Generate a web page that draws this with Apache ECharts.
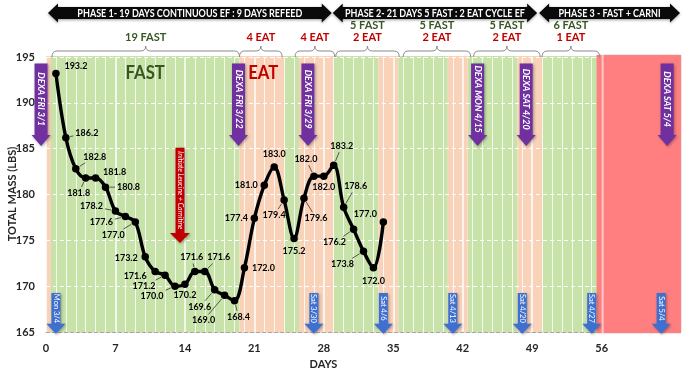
<!DOCTYPE html>
<html><head><meta charset="utf-8">
<script src="https://cdn.jsdelivr.net/npm/echarts/dist/echarts.min.js"></script>
<style>html,body{margin:0;padding:0;background:#fff}#c{width:690px;height:373px}</style>
</head><body><div id="c"></div>
<script>
// ---------- data ----------
const dayNums = [1,2,3,4,5,6,7,8,9,10,11,12,13,14,15,16,17,18,19,20,21,22,23,24,25,26,27,28,29,30,31,32,33,34];
const massLbs = [193.2,186.2,182.8,181.8,181.8,180.8,178.2,177.6,177.0,173.2,171.6,171.2,170.0,170.2,171.6,171.6,169.6,169.0,168.4,172.0,177.4,181.0,183.0,179.4,175.2,179.6,182.0,182.0,183.2,178.6,176.2,173.8,172.0,177.0];
const xTickLabels = [0,7,14,21,28,35,42,49,56];
const yTickLabels = [165,170,175,180,185,190,195];
const fastBands = [[0.5,19.5],[24,25.5],[29,33.5],[35.5,40.5],[42.5,47.5],[50,55.5]];
const eatBands = [[0,0.5],[19.5,24],[25.5,29],[33.5,35.5],[40.5,42.5],[47.5,50]];
const carniBand = [[55.5,64]];
const phaseStart = [0.2,28.9,49.7];
const phaseEnd = [28.8,49.5,63.9];
const phaseText = ['PHASE 1- 19 DAYS CONTINUOUS EF : 9 DAYS REFEED','PHASE 2- 21 DAYS 5 FAST : 2 EAT CYCLE EF','PHASE 3 - FAST + CARNI'];
const braceStart = [0.6,19.5,25.1,29.2,36.0,43.1,50.0];
const braceEnd = [19.5,23.8,29.1,35.6,42.8,49.8,55.8];
const braceFast = ['19 FAST','','','5 FAST','5 FAST','5 FAST','6 FAST'];
const braceEat = ['','4 EAT','4 EAT','2 EAT','2 EAT','2 EAT','1 EAT'];
const bigLabelDay = [10,21.9];
const bigLabelText = ['FAST','EAT'];
const dexaDay = [-0.5,19.4,26.4,43.5,48.4,62.6];
const dexaText = ['DEXA FRI 3/1','DEXA FRI 3/22','DEXA FRI 3/29','DEXA MON 4/15','DEXA SAT 4/20','DEXA SAT 5/4'];
const dateDay = [1,27,34,41,48,55,62];
const dateText = ['Mon 3/4','Sat 3/30','Sat 4/6','Sat 4/13','Sat 4/20','Sat 4/27','Sat 5/4'];
const noteDay = [13.5];
const noteText = ['Initiate Leucine + Carnitine'];

// ---------- styling (not data) ----------
const labelDX = [20,21,19,-7,19,23,-24,-24,-22,-19,-20,-21,-23,0,-3,14,-15,-21,4,19,-18,-18,0,-10,0,12,-8,0,8,12,-19,-21,0,-18];
const labelDY = [-7,-5,-12,15,-6,0,-5,6,13,1,5,11,10,11,-14,-14,17,25,16,0,0,0,-13,15,13,20,-17,11,-19,-21,13,13,13,-8];
const phaseTextWidth = [225,180,102];
const GREEN = '#c8e3aa', PEACH = '#f9d2ba', RED = '#ff7f80';
const DKGREEN = '#375623', DKRED = '#c00000';
const F = 'Lato, "Open Sans", sans-serif';
const LABEL_FONT = 'bold 9px ' + F;

const mctx = document.createElement('canvas').getContext('2d');
function textW(text, font){ mctx.font = font; return mctx.measureText(text).width; }
function fitScale(text, font, target){ const w = textW(text, font); return w > 0 ? target / w : 1; }

function vArrow(x, yTop, yTip, bodyW, headW, headH, color, text, font){
  const yHead = yTip - headH;
  return {type:'group', children:[
    {type:'polygon', shape:{points:[[x-bodyW/2,yTop],[x+bodyW/2,yTop],[x+bodyW/2,yHead],[x+headW/2,yHead],[x,yTip],[x-headW/2,yHead],[x-bodyW/2,yHead]]},
     style:{fill:color, shadowBlur:3, shadowColor:'rgba(0,0,0,0.35)', shadowOffsetX:1, shadowOffsetY:1}},
    {type:'text', x:x, y:(yTop+yHead)/2, rotation:-Math.PI/2,
     style:{text:text, fill:'#fff', font:font, align:'center', verticalAlign:'middle'}}
  ]};
}

const chart = echarts.init(document.getElementById('c'), null, {renderer:'canvas'});
chart.setOption({
  animation:false,
  backgroundColor:'#fff',
  grid:{left:46, right:9, top:57, bottom:41, outerBoundsMode:'none', containLabel:false},
  graphic:[{type:'text', x:12, y:194, rotation:Math.PI/2, silent:true,
    style:{text:'TOTAL MASS (LBS)', fill:'#262626', font:'bold 11px ' + F, align:'center', verticalAlign:'middle'}}],
  xAxis:{type:'value', min:0, max:64, interval:7,
    axisLine:{show:true, lineStyle:{color:'#a6a6a6', type:'dashed', width:1}},
    axisTick:{show:false},
    axisLabel:{formatter:v => xTickLabels.includes(v) ? String(v) : '', color:'#262626', fontFamily:F, fontWeight:'bold', fontSize:11, margin:11},
    splitLine:{show:true, lineStyle:{color:'#ffffff', width:1.5}},
    minorTick:{show:false, splitNumber:7},
    minorSplitLine:{show:true, lineStyle:{color:'rgba(255,255,255,0.8)', width:1}},
    name:'DAYS', nameLocation:'middle', nameGap:25,
    nameTextStyle:{color:'#262626', fontFamily:F, fontWeight:'bold', fontSize:11, padding:[0,80,0,0]}
  },
  yAxis:{type:'value', min:165, max:195, interval:5,
    axisLine:{show:false}, axisTick:{show:false},
    axisLabel:{formatter:v => yTickLabels.includes(v) ? String(v) : '', color:'#262626', fontFamily:F, fontWeight:'bold', fontSize:11, margin:11},
    splitLine:{show:true, lineStyle:{color:'#ffffff', type:[4,3], width:1.2}}
  },
  series:[
    {type:'custom', name:'bands', z:-1, silent:true,
     data: fastBands.map(b => [b[0], b[1], 0]).concat(eatBands.map(b => [b[0], b[1], 1])),
     encode:{x:[0,1]},
     renderItem:(params, api) => {
       const p0 = api.coord([api.value(0),195]), p1 = api.coord([api.value(1),165]);
       return {type:'rect', shape:{x:p0[0], y:p0[1]-1, width:p1[0]-p0[0], height:p1[1]-p0[1]+1}, style:{fill: api.value(2)===0 ? GREEN : PEACH}};
     }},
    {type:'custom', name:'carni', z:1, silent:true,
     data: carniBand.map(b => [b[0], b[1]]), encode:{x:[0,1]},
     renderItem:(params, api) => {
       const p0 = api.coord([api.value(0),195]), p1 = api.coord([api.value(1),165]);
       const xl = api.coord([56,195])[0];
       return {type:'group', children:[
         {type:'rect', shape:{x:p0[0], y:p0[1]-2, width:p1[0]-p0[0], height:p1[1]-p0[1]+3}, style:{fill:RED, shadowBlur:2, shadowColor:'rgba(0,0,0,0.25)'}},
         {type:'line', shape:{x1:xl+1, y1:p0[1]-2, x2:xl+1, y2:p1[1]+1}, style:{stroke:'rgba(255,220,220,0.8)', lineWidth:2}}
       ]};
     }},
    {type:'line', name:'mass', z:5,
     data: dayNums.map((d,i) => [d, massLbs[i]]),
     smooth:0.35, showAllSymbol:true, symbol:'circle', symbolSize:7.5,
     lineStyle:{color:'#000', width:3.4},
     itemStyle:{color:'#000'},
     label:{show:false}
    },
    {type:'custom', name:'massLabels', z:6, silent:true,
     data: dayNums.map((d,i) => [d, massLbs[i]]), encode:{x:0, y:1},
     renderItem:(params, api) => {
       const i = params.dataIndex;
       const p = api.coord([api.value(0), api.value(1)]);
       const txt = api.value(1).toFixed(1);
       const cx = p[0] + labelDX[i], cy = p[1] + labelDY[i];
       const hw = textW(txt, LABEL_FONT)/2 + 2, hh = 6;
       const ch = [{type:'text', x:cx, y:cy, style:{text:txt, fill:'#000', font:LABEL_FONT, align:'center', verticalAlign:'middle'}}];
       const dx = p[0]-cx, dy = p[1]-cy;
       const tx = dx !== 0 ? hw/Math.abs(dx) : Infinity, ty = dy !== 0 ? hh/Math.abs(dy) : Infinity;
       const t = Math.min(tx, ty);
       if (t < 1) {
         const ex = cx + dx*t, ey = cy + dy*t;
         const len = Math.hypot(dx, dy);
         const sx = p[0] - dx/len*4.5, sy = p[1] - dy/len*4.5;
         if (Math.hypot(ex-sx, ey-sy) > 2.5) {
           ch.push({type:'line', shape:{x1:sx, y1:sy, x2:ex, y2:ey}, style:{stroke:'#333', lineWidth:0.8}});
         }
       }
       return {type:'group', children:ch};
     }},
    {type:'custom', name:'phases', z:6, silent:true,
     data: phaseStart.map((s,i) => [s, phaseEnd[i]]), encode:{x:[0,1]},
     renderItem:(params, api) => {
       const x1 = api.coord([api.value(0),195])[0], x2 = api.coord([api.value(1),195])[0];
       const yc = api.coord([0,195])[1] - 44;
       const hh = 9.5, bh = 6, hl = 10;
       const font = 'bold 11px ' + F;
       const txt = phaseText[params.dataIndex];
       return {type:'group', children:[
         {type:'polygon', shape:{points:[[x1,yc],[x1+hl,yc-hh],[x1+hl,yc-bh],[x2-hl,yc-bh],[x2-hl,yc-hh],[x2,yc],[x2-hl,yc+hh],[x2-hl,yc+bh],[x1+hl,yc+bh],[x1+hl,yc+hh]]},
          style:{fill:'#0a0a0a', shadowBlur:3, shadowColor:'rgba(0,0,0,0.4)', shadowOffsetY:1}},
         {type:'text', x:(x1+x2)/2, y:yc+0.5, scaleX:fitScale(txt, font, phaseTextWidth[params.dataIndex]),
          style:{text:txt, fill:'#fff', font:font, align:'center', verticalAlign:'middle'}}
       ]};
     }},
    {type:'custom', name:'braces', z:6, silent:true,
     data: braceStart.map((s,i) => [s, braceEnd[i]]), encode:{x:[0,1]},
     renderItem:(params, api) => {
       const i = params.dataIndex;
       const x1 = api.coord([api.value(0),195])[0], x2 = api.coord([api.value(1),195])[0];
       const xm = (x1+x2)/2;
       const top = api.coord([0,195])[1];
       const yb = top, ya = top - 6, yp = top - 11, r = 5;
       const st = {stroke:'#8a8a8a', lineWidth:1, fill:null};
       const ch = [
         {type:'bezierCurve', shape:{x1:x1, y1:yb, cpx1:x1, cpy1:ya, x2:x1+r, y2:ya}, style:st},
         {type:'line', shape:{x1:x1+r, y1:ya, x2:xm-r, y2:ya}, style:st},
         {type:'bezierCurve', shape:{x1:xm-r, y1:ya, cpx1:xm, cpy1:ya, x2:xm, y2:yp}, style:st},
         {type:'bezierCurve', shape:{x1:xm, y1:yp, cpx1:xm, cpy1:ya, x2:xm+r, y2:ya}, style:st},
         {type:'line', shape:{x1:xm+r, y1:ya, x2:x2-r, y2:ya}, style:st},
         {type:'bezierCurve', shape:{x1:x2-r, y1:ya, cpx1:x2, cpy1:ya, x2:x2, y2:yb}, style:st}
       ];
       const font = 'bold 11px ' + F;
       if (braceFast[i] && braceEat[i]) {
         ch.push({type:'text', x:xm, y:top-32, style:{text:braceFast[i], fill:DKGREEN, font:font, align:'center', verticalAlign:'middle'}});
         ch.push({type:'text', x:xm, y:top-20, style:{text:braceEat[i], fill:DKRED, font:font, align:'center', verticalAlign:'middle'}});
       } else if (braceFast[i]) {
         ch.push({type:'text', x:xm, y:top-20, style:{text:braceFast[i], fill:DKGREEN, font:font, align:'center', verticalAlign:'middle'}});
       } else {
         ch.push({type:'text', x:xm, y:top-20, style:{text:braceEat[i], fill:DKRED, font:font, align:'center', verticalAlign:'middle'}});
       }
       return {type:'group', children:ch};
     }},
    {type:'custom', name:'bigLabels', z:6, silent:true,
     data: bigLabelDay.map(d => [d, 193]), encode:{x:0, y:1},
     renderItem:(params, api) => {
       const x = api.coord([api.value(0),195])[0];
       const y = api.coord([0,195])[1] + 16;
       return {type:'text', x:x, y:y, scaleX:0.88, style:{text:bigLabelText[params.dataIndex], fill: params.dataIndex===0 ? DKGREEN : DKRED, font:'bold 19px ' + F, align:'center', verticalAlign:'middle'}};
     }},
    {type:'custom', name:'dexa', z:6, silent:true,
     data: dexaDay.map(d => [d, 190]), encode:{x:0, y:1},
     renderItem:(params, api) => {
       const x = api.coord([api.value(0),195])[0];
       const yTop = api.coord([0,194.3])[1], yTip = api.coord([0,185.3])[1];
       return vArrow(x, yTop, yTip, 13, 19, 11, '#7030a0', dexaText[params.dataIndex], 'italic bold 9px ' + F);
     }},
    {type:'custom', name:'dates', z:6, silent:true,
     data: dateDay.map(d => [d, 167]), encode:{x:0, y:1},
     renderItem:(params, api) => {
       const x = api.coord([api.value(0),195])[0];
       const yTop = api.coord([0,169.25])[1], yTip = api.coord([0,164.8])[1];
       return vArrow(x, yTop, yTip, 9, 19, 10, '#3e70d2', dateText[params.dataIndex], '7.5px ' + F);
     }},
    {type:'custom', name:'note', z:6, silent:true,
     data: noteDay.map(d => [d, 180]), encode:{x:0, y:1},
     renderItem:(params, api) => {
       const x = api.coord([api.value(0),195])[0];
       const yTop = api.coord([0,185.1])[1], yTip = api.coord([0,174.7])[1];
       return vArrow(x, yTop, yTip, 9, 20, 10, '#c00000', noteText[params.dataIndex], 'italic 7px ' + F);
     }}
  ]
});
</script>
</body></html>
